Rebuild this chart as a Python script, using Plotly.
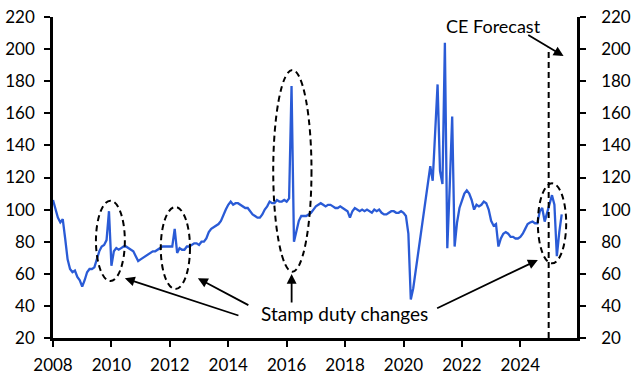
import plotly.graph_objects as go

# Monthly index values, Jan 2008 onwards
y2008 = [106, 100, 95, 92, 94, 82, 69, 63, 61, 62, 58, 56]
y2009 = [52, 56, 61, 63, 63, 64, 69, 74, 77, 78, 81, 99]
y2010 = [65, 74, 76, 75, 76, 77, 77, 76, 75, 74, 71, 68]
y2011 = [69, 70, 71, 72, 73, 74, 74, 75, 76, 77, 77, 77]
y2012 = [77, 77, 88, 73, 76, 75, 75, 77, 77, 78, 79, 79]
y2013 = [78, 80, 80, 82, 86, 88, 89, 90, 91, 93, 97, 100]
y2014 = [103, 105, 103, 104, 104, 103, 102, 101, 101, 99, 97, 96]
y2015 = [95, 95, 97, 100, 102, 105, 104, 104, 106, 105, 105, 106]
y2016 = [105, 107, 177, 80, 87, 93, 96, 96, 96, 97, 98, 100]
y2017 = [102, 103, 104, 103, 102, 103, 103, 102, 101, 101, 102, 101]
y2018 = [100, 99, 95, 99, 101, 100, 99, 100, 99, 100, 99, 98]
y2019 = [100, 99, 100, 98, 97, 97, 98, 99, 99, 98, 98, 99]
y2020 = [98, 96, 85, 44, 51, 62, 71, 82, 92, 103, 115, 127]
y2021 = [118, 150, 178, 124, 116, 204, 76, 115, 158, 77, 92, 101]
y2022 = [106, 110, 112, 110, 106, 100, 103, 102, 103, 105, 104, 100]
y2023 = [93, 90, 91, 77, 82, 85, 86, 85, 83, 83, 82, 82]
y2024 = [83, 85, 88, 91, 92, 92.5, 91.5, 91.5, 99, 101, 92.5, 98]
y2025 = [103, 109, 103, 71, 86, 97]

start_year = 2008
x_ticks = [2008, 2010, 2012, 2014, 2016, 2018, 2020, 2022, 2024]
y_ticks = [20, 40, 60, 80, 100, 120, 140, 160, 180, 200, 220]
forecast_start = 2024.97
label_stamp = "Stamp duty changes"
label_fc = "CE Forecast"

values = (y2008 + y2009 + y2010 + y2011 + y2012 + y2013 + y2014 + y2015 + y2016
          + y2017 + y2018 + y2019 + y2020 + y2021 + y2022 + y2023 + y2024 + y2025)
xs = [start_year + i / 12 for i in range(len(values))]

BLUE = "#2a5bd6"
FONT = "Lato"

fig = go.Figure()
fig.add_trace(go.Scatter(x=xs, y=values, mode="lines",
                         line=dict(color=BLUE, width=2.3), hoverinfo="skip",
                         showlegend=False))
fig.add_trace(go.Scatter(x=xs, y=values, mode="lines", yaxis="y2",
                         line=dict(color="rgba(0,0,0,0)", width=0),
                         hoverinfo="skip", showlegend=False))

# dashed ellipses around stamp duty spikes
ellipses = [
    (2009.47, 2010.46, 55.5, 105.5),
    (2011.69, 2012.69, 50.5, 101.6),
    (2015.54, 2016.85, 61.3, 187.0),
    (2024.60, 2025.57, 66.5, 116.4),
]
for x0, x1, y0, y1 in ellipses:
    fig.add_shape(type="circle", xref="x", yref="y", x0=x0, x1=x1, y0=y0, y1=y1,
                  line=dict(color="black", width=2, dash="6px,4px"))

# forecast line
fig.add_shape(type="line", xref="x", yref="y", x0=forecast_start, x1=forecast_start,
              y0=20, y1=201, line=dict(color="black", width=2, dash="6px,4px"))

# arrows
arrows = [
    ((2010.46, 57.2), (2014.40, 33.7)),
    ((2012.96, 57.2), (2014.74, 40.0)),
    ((2016.17, 59.9), (2016.17, 41.2)),
    ((2024.60, 68.6), (2021.10, 38.1)),
    ((2025.48, 195.7), (2024.22, 209.4)),
]
for (hx, hy), (tx, ty) in arrows:
    fig.add_annotation(x=hx, y=hy, ax=tx, ay=ty, xref="x", yref="y",
                       axref="x", ayref="y", text="", showarrow=True,
                       arrowhead=2, arrowsize=1.1, arrowwidth=1.8,
                       arrowcolor="black")

fig.add_annotation(x=2017.97, y=35, xref="x", yref="y", text=label_stamp,
                   showarrow=False, font=dict(family=FONT, size=19, color="black"))
fig.add_annotation(x=2023.09, y=214.4, xref="x", yref="y", text=label_fc,
                   showarrow=False, font=dict(family=FONT, size=18, color="black"))

axis_common = dict(showgrid=False, zeroline=False, showline=True, linecolor="black",
                   linewidth=2.5, ticks="outside", ticklen=6, tickwidth=2,
                   tickcolor="black", automargin=False,
                   tickfont=dict(family=FONT, size=17, color="black"))

fig.update_layout(
    width=637, height=389,
    margin=dict(l=53, r=60, t=17, b=51),
    paper_bgcolor="white", plot_bgcolor="white",
    showlegend=False,
    xaxis=dict(range=[2008, 2025.94], tickvals=x_ticks,
               ticktext=[str(v) for v in x_ticks], ticklabelstandoff=4,
               **axis_common),
    yaxis=dict(range=[20, 220], tickvals=y_ticks, ticklabelstandoff=6, **axis_common),
    yaxis2=dict(range=[20, 220], tickvals=y_ticks, overlaying="y", side="right",
                ticklabelstandoff=12, **axis_common),
)

fig.write_html("out.html", config={"displayModeBar": False},
               post_script="document.body.style.margin='0';document.body.style.padding='0';")
